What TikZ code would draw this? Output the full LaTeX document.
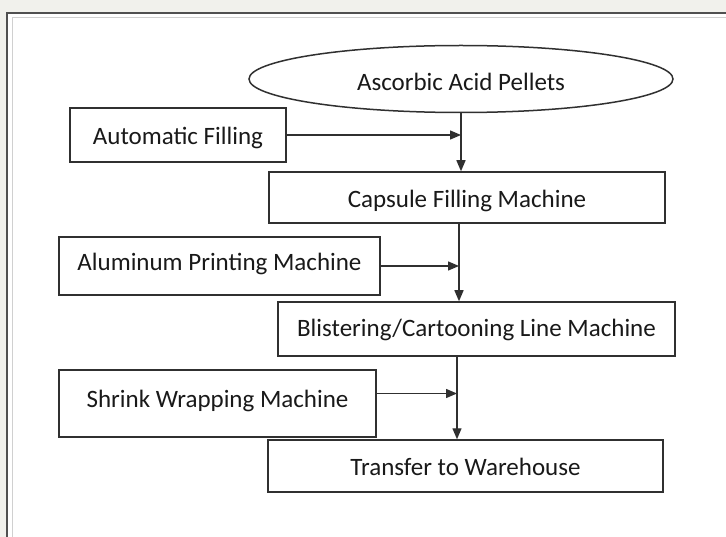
\documentclass[tikz,border=0pt]{standalone}
\usepackage{fontspec}
\setmainfont{Carlito}
\usetikzlibrary{arrows.meta}
\usetikzlibrary{shapes.geometric,calc}

\definecolor{pagebg}{HTML}{F1F1EC}
\definecolor{framedark}{HTML}{505050}
\definecolor{framelight}{HTML}{D0D0D0}
\definecolor{inkgray}{HTML}{303030}

\begin{document}
\begin{tikzpicture}[x=1pt,y=-1pt,
	stepbox/.style={draw=inkgray, line width=1.5pt, rectangle, inner sep=0pt, font=\fontsize{25}{25}\selectfont, text=black!90, text height=20pt, text depth=0pt},
	startnode/.style={draw=inkgray, line width=1.5pt, ellipse, inner sep=0pt, font=\fontsize{25}{25}\selectfont, text=black!90, text height=24pt, text depth=0pt},
	flow/.style={draw=inkgray, line width=1.4pt, -{Triangle[length=11pt,width=9pt]}}]
	\useasboundingbox (0,0) rectangle (726,537);
	% frame
	\fill[pagebg] (0,0) rectangle (726,537);
	\fill[white] (7,13) rectangle (726,537);
	\draw[framedark, line width=1.2pt] (7,537) -- (7,13) -- (726,13);
	\draw[framelight, line width=1pt] (12,537) -- (12,18) -- (726,18);

	% steps
	\node[startnode, minimum width=424pt, minimum height=67pt] (pellets) at (461,79) {Ascorbic Acid Pellets};
	\node[stepbox, minimum width=216pt, minimum height=54pt] (auto) at (178,135) {Automatic Filling};
	\node[stepbox, minimum width=396pt, minimum height=51pt] (capsule) at (467,197.5) {Capsule Filling Machine};
	\node[stepbox, minimum width=321pt, minimum height=58pt, text depth=10pt] (alu) at (219.5,266) {Aluminum Printing Machine};
	\node[stepbox, minimum width=397pt, minimum height=54pt, text depth=4pt] (blister) at (476.5,329) {Blistering/Cartooning Line Machine};
	\node[stepbox, minimum width=317pt, minimum height=67pt, text depth=13pt] (shrink) at (217.5,403.5) {Shrink Wrapping Machine};
	\node[stepbox, minimum width=395pt, minimum height=52pt, text depth=2pt] (transfer) at (465.5,466) {Transfer to Warehouse};

	% joints on the main line
	\coordinate (j2) at (459,223);
	\coordinate (j3) at (457,356);

	% connectors
	\draw[flow] (pellets.south) -- (pellets.south |- capsule.north);
	\draw[flow] (auto.east) -- (auto.east -| pellets.south);
	\draw[flow] (j2) -- (j2 |- blister.north);
	\draw[flow] (alu.east) -- (alu.east -| j2);
	\draw[flow] (j3) -- (j3 |- transfer.north);
	\draw[flow] ($(shrink.east)+(0,-10)$) -- ($(shrink.east -| j3)+(0,-10)$);
\end{tikzpicture}
\end{document}
